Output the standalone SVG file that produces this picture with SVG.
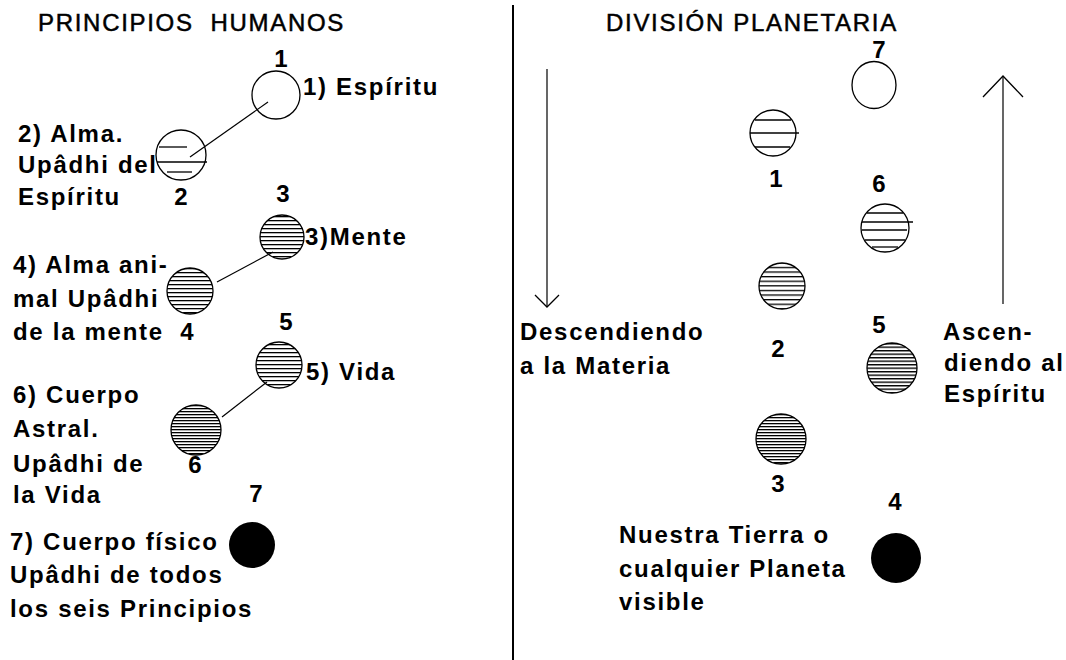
<svg xmlns="http://www.w3.org/2000/svg" width="1066" height="660" viewBox="0 0 1066 660">
<style>
text{font-family:"Liberation Sans",Arial,sans-serif;font-size:24px;font-weight:bold;fill:#000;letter-spacing:1.7px;white-space:pre}
.title{font-weight:normal;letter-spacing:1.7px;stroke:#000;stroke-width:0.5}
.num{text-anchor:middle;letter-spacing:0}
.ring{stroke:#000;stroke-width:1.3}
.hl{stroke:#000;stroke-width:1.3}
.conn{stroke:#000;stroke-width:1.2;fill:none}
</style>
<defs>
<pattern id="p3" width="10" height="3" patternUnits="userSpaceOnUse"><rect y="0" width="10" height="1.3" fill="#000"/></pattern>
<pattern id="p4" width="10" height="4" patternUnits="userSpaceOnUse"><rect y="0" width="10" height="1.3" fill="#000"/></pattern>
<pattern id="p45" width="10" height="4.6" patternUnits="userSpaceOnUse"><rect y="0" width="10" height="1.3" fill="#000"/></pattern>
<pattern id="p35" width="10" height="3.5" patternUnits="userSpaceOnUse"><rect y="0" width="10" height="1.4" fill="#000"/></pattern>
<marker id="vs" markerUnits="userSpaceOnUse" orient="auto" refX="0" refY="0" markerWidth="30" markerHeight="30" overflow="visible"><path d="M-12,-12 L0,0 L-12,12" fill="none" stroke="#000" stroke-width="1.3"/></marker>
<marker id="vl" markerUnits="userSpaceOnUse" orient="auto" refX="0" refY="0" markerWidth="50" markerHeight="50" overflow="visible"><path d="M-21,-20 L0,0 L-21,20" fill="none" stroke="#000" stroke-width="1.3"/></marker>
</defs>
<rect width="1066" height="660" fill="#fff"/>

<text class="title" x="38" y="31">PRINCIPIOS  HUMANOS</text>
<text class="title" x="606" y="31">DIVISIÓN PLANETARIA</text>
<line x1="513" y1="5" x2="513" y2="660" stroke="#000" stroke-width="2"/>

<g id="connectors">
<line class="conn" x1="268" y1="102" x2="190" y2="157"/>
<line class="conn" x1="273" y1="252" x2="217" y2="282"/>
<line class="conn" x1="267" y1="382" x2="222" y2="417"/>
<line class="conn" x1="547" y1="69" x2="547" y2="307" marker-end="url(#vs)"/>
<line class="conn" x1="1003" y1="304" x2="1003" y2="76" marker-end="url(#vl)"/>
</g>

<g id="h1">
<circle class="ring" cx="276" cy="95" r="24" fill="none"/>
<text class="num" x="281" y="67">1</text>
<text x="303" y="95">1) Espíritu</text>
</g>
<g id="h2">
<circle class="ring" cx="181" cy="155" r="25" fill="none"/>
<line class="hl" x1="159" y1="147" x2="187" y2="147"/>
<line class="hl" x1="157" y1="162" x2="207" y2="162"/>
<line class="hl" x1="167" y1="172" x2="192" y2="172"/>
<text class="num" x="181" y="205">2</text>
<text x="18" y="142">2) Alma.</text>
<text x="18" y="173">Upâdhi del</text>
<text x="18" y="205">Espíritu</text>
</g>
<g id="h3">
<circle class="ring" cx="282" cy="237" r="22" fill="url(#p4)"/>
<text class="num" x="283" y="202">3</text>
<text x="305" y="245">3)Mente</text>
</g>
<g id="h4">
<circle class="ring" cx="190" cy="291" r="23" fill="url(#p4)"/>
<text class="num" x="187" y="340">4</text>
<text x="13" y="273">4) Alma ani-</text>
<text x="13" y="307">mal Upâdhi</text>
<text x="13" y="340">de la mente</text>
</g>
<g id="h5">
<circle class="ring" cx="279" cy="365" r="23" fill="url(#p4)"/>
<text class="num" x="286" y="330">5</text>
<text x="306" y="380">5) Vida</text>
</g>
<g id="h6">
<circle class="ring" cx="196" cy="430" r="25" fill="url(#p3)"/>
<text class="num" x="195" y="473">6</text>
<text x="13" y="403">6) Cuerpo</text>
<text x="13" y="437">Astral.</text>
<text x="13" y="472">Upâdhi de</text>
<text x="13" y="503">la Vida</text>
</g>
<g id="h7">
<circle cx="252" cy="545" r="23" fill="#000"/>
<text class="num" x="256" y="502">7</text>
<text x="10" y="550">7) Cuerpo físico</text>
<text x="10" y="583">Upâdhi de todos</text>
<text x="10" y="617">los seis Principios</text>
</g>

<g id="p7">
<ellipse class="ring" cx="874" cy="85" rx="22" ry="23.5" fill="none"/>
<text class="num" x="879" y="58">7</text>
</g>
<g id="p1">
<circle class="ring" cx="773" cy="133" r="23" fill="none"/>
<line class="hl" x1="755" y1="120" x2="791" y2="120"/>
<line class="hl" x1="750" y1="133" x2="799" y2="133"/>
<line class="hl" x1="755" y1="147" x2="790" y2="147"/>
<text class="num" x="776" y="187">1</text>
</g>
<g id="p6">
<circle class="ring" cx="885" cy="228" r="24" fill="none"/>
<line class="hl" x1="867" y1="213" x2="903" y2="213"/>
<line class="hl" x1="862" y1="222" x2="913" y2="222"/>
<line class="hl" x1="862" y1="230" x2="907" y2="230"/>
<line class="hl" x1="865" y1="240" x2="905" y2="240"/>
<line class="hl" x1="872" y1="247" x2="898" y2="247"/>
<text class="num" x="879" y="192">6</text>
</g>
<g id="p2">
<circle class="ring" cx="782" cy="286" r="23" fill="url(#p45)"/>
<text class="num" x="778" y="357">2</text>
</g>
<g id="p5">
<circle class="ring" cx="892" cy="368" r="25" fill="url(#p35)"/>
<text class="num" x="879" y="333">5</text>
</g>
<g id="p3n">
<circle class="ring" cx="781" cy="439" r="25" fill="url(#p3)"/>
<text class="num" x="778" y="492">3</text>
</g>
<g id="p4n">
<circle cx="896" cy="558" r="25" fill="#000"/>
<text class="num" x="895" y="510">4</text>
<text x="619" y="543">Nuestra Tierra o</text>
<text x="619" y="577">cualquier Planeta</text>
<text x="619" y="610">visible</text>
</g>
<g id="desc">
<text x="520" y="340">Descendiendo</text>
<text x="520" y="374">a la Materia</text>
</g>
<g id="asc">
<text x="943" y="340">Ascen-</text>
<text x="944" y="371">diendo al</text>
<text x="944" y="402">Espíritu</text>
</g>
</svg>
